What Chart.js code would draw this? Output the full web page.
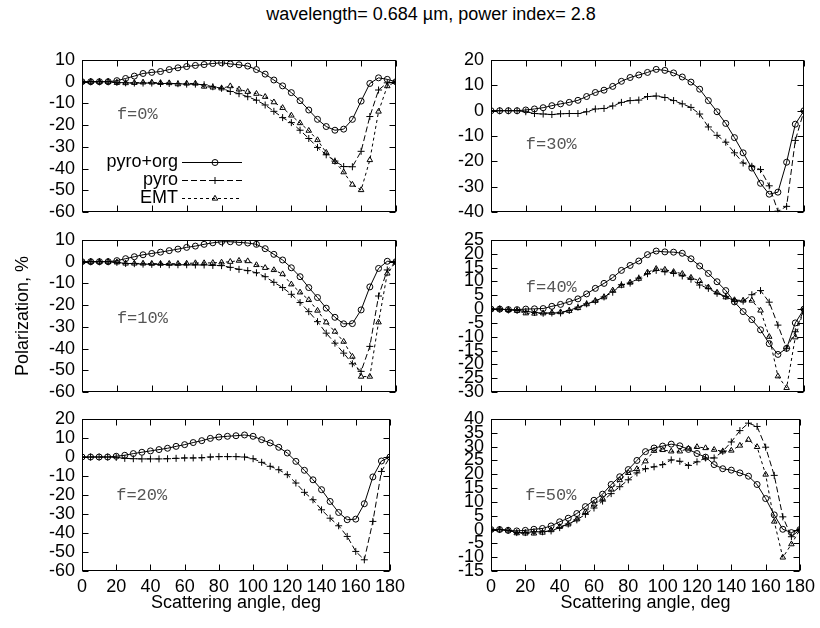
<!DOCTYPE html>
<html><head><meta charset="utf-8">
<script src="https://cdn.jsdelivr.net/npm/chart.js@4/dist/chart.umd.min.js"></script>
<style>
html,body{margin:0;padding:0;background:#fff;}
#wrap{position:relative;width:820px;height:628px;overflow:hidden;font-family:"Liberation Sans",Arial,sans-serif;}
#title{position:absolute;top:4px;left:0;width:862px;text-align:center;font-size:18px;color:#000;line-height:20px;}
canvas{position:absolute;}
</style></head><body>
<div id="wrap">
<div id="title">wavelength= 0.684 µm, power index= 2.8</div>
<canvas id="c1" width="410" height="190" style="left:0;top:40px"></canvas>
<canvas id="c2" width="410" height="190" style="left:410px;top:40px"></canvas>
<canvas id="c3" width="410" height="190" style="left:0;top:220px"></canvas>
<canvas id="c4" width="410" height="190" style="left:410px;top:220px"></canvas>
<canvas id="c5" width="410" height="228" style="left:0;top:400px"></canvas>
<canvas id="c6" width="410" height="228" style="left:410px;top:400px"></canvas>
</div>
<script>
const ANGLES = [0,5,10,15,20,25,30,35,40,45,50,55,60,65,70,75,80,85,90,95,100,105,110,115,120,125,130,135,140,145,150,155,160,165,170,175,180];
const X_TICKS = [0,20,40,60,80,100,120,140,160,180];
const SERIES_NAMES = ['pyro+org','pyro','EMT'];
const PANEL_LABELS = ['f=0%','f=30%','f=10%','f=40%','f=20%','f=50%'];

// f = 0%
const PO_F0 = [0,0,0,0,0.5,1.5,2.6,3.8,4.3,4.7,5.6,6.4,7.0,7.5,7.9,8.4,8.7,8.2,7.8,7.2,5.6,3.5,0.8,-1.9,-5.0,-8.7,-13.0,-17.3,-20.6,-22.3,-21.8,-17.3,-8.9,-0.8,1.8,1.1,0];
const P_F0  = [0,0,0,0,-0.3,-0.5,-0.6,-0.6,-0.6,-0.8,-0.8,-0.9,-1.1,-1.1,-1.4,-2.3,-3.0,-4.5,-5.5,-6.9,-8.5,-10.7,-13.6,-16.5,-18.8,-22.3,-26.1,-30.2,-33.6,-36.5,-39.0,-39.1,-32.0,-16.0,-3.8,-0.5,0];
const E_F0  = [0,0,0,0,-0.5,-0.6,-0.5,-0.3,-0.3,-0.5,-0.6,-1.1,-0.8,-0.8,-2.2,-2.6,-3.0,-2.0,-3.5,-4.6,-5.5,-6.9,-9.4,-12.0,-15.5,-19.0,-22.5,-26.8,-32.6,-36.8,-41.6,-47.3,-49.8,-36.0,-13.7,-2.0,0];
// f = 30%
const PO_F30 = [0,0,0,0,0.3,0.7,1.2,2.0,2.7,3.3,4.1,5.6,7.2,8.1,9.6,11.6,13.1,14.1,15.1,16.3,15.9,14.9,13.3,11.3,8.5,4.0,-0.4,-5.0,-10.6,-16.6,-22.6,-28.6,-32.9,-32.1,-20.3,-5.3,0];
const P_F30  = [0,0,0,0,-0.4,-1.1,-1.3,-1.5,-1.2,-1.1,-1.1,-0.4,0.7,0.9,1.9,3.3,4.0,4.2,5.6,5.8,5.2,4.0,2.7,1.3,-1.3,-6.4,-9.7,-12.4,-16.6,-20.6,-21.9,-23.2,-29.6,-39.6,-37.7,-11.7,0];
// f = 10%
const PO_F10 = [0,0,0,0,0.5,1.4,2.3,3.2,3.8,4.4,5.1,5.8,6.6,7.2,8.0,8.7,9.2,9.2,8.9,8.6,8.0,6.0,3.4,0.8,-2.8,-6.9,-11.9,-16.5,-21.4,-25.6,-28.6,-28.5,-22.2,-11.6,-3.1,0.2,0];
const P_F10  = [0,0,0,0,-0.3,-0.8,-0.9,-1.1,-1.2,-1.2,-1.4,-1.4,-1.4,-1.5,-1.5,-1.7,-1.8,-2.6,-3.5,-4.1,-5.1,-6.9,-9.5,-11.9,-15.0,-18.8,-23.0,-27.6,-32.9,-37.5,-42.1,-47.0,-50.5,-39.0,-15.8,-3.8,0];
const E_F10  = [0,0,0,0,-0.3,-0.8,-0.8,-0.8,-0.9,-0.9,-0.9,-0.9,-0.8,-0.6,-0.6,-0.5,-0.3,0.0,0.5,0.3,-1.5,-2.8,-3.8,-5.7,-10.4,-14.1,-17.6,-22.5,-27.9,-32.2,-36.8,-43.7,-52.9,-52.9,-27.9,-5.4,0];
// f = 40%
const PO_F40 = [0,0,-0.2,-0.2,0,0.1,0.2,1.0,1.7,2.7,3.7,5.5,7.5,9.3,11.4,14.0,15.8,17.4,19.7,21.0,20.7,20.6,20.2,18.2,15.6,12.9,9.9,6.7,2.6,-0.9,-3.8,-7.5,-12.5,-16.4,-14.2,-5.0,0];
const P_F40  = [0,0,-0.3,-0.5,-0.8,-1.2,-1.5,-1.4,-1.4,-0.5,0.7,1.9,2.9,4.4,6.1,8.8,9.4,11.2,12.8,14.0,13.5,13.0,12.0,10.8,8.7,7.5,5.7,4.6,2.9,2.9,5.2,6.7,2.5,-5.8,-14.2,-8.2,0];
const E_F40  = [0,0,-0.3,-0.6,-1.5,-1.6,-1.5,-1.3,-1.1,-0.6,0.4,1.8,3.0,4.3,6.8,8.5,9.6,11.0,13.3,14.6,14.3,13.5,12.8,11.4,10.2,7.9,6.0,4.3,3.3,3.1,3.1,-0.5,-10.0,-24.3,-28.5,-10.2,0];
// f = 20%
const PO_F20 = [0,0,0,0,0.4,0.9,1.8,2.5,3.2,3.9,4.6,5.6,6.5,7.6,8.6,9.8,10.5,10.9,11.2,11.6,10.9,9.1,7.4,5.1,2.1,-2.3,-7.0,-12.0,-17.2,-23.4,-29.2,-33.0,-32.7,-24.6,-10.5,-2.1,0];
const P_F20  = [0,0,0,0,-0.2,-0.7,-0.9,-1.0,-1.0,-1.0,-0.9,-0.7,-0.5,-0.5,-0.4,0,0.2,0.2,0.2,0,-0.9,-2.8,-4.9,-6.7,-9.3,-13.7,-18.6,-22.5,-27.8,-32.2,-36.2,-41.8,-49.7,-54.1,-33.9,-7.6,0];
// f = 50%
const PO_F50 = [0,0,-0.3,-0.5,-0.3,0.1,0.4,1.3,2.8,4.1,5.8,8.3,10.6,12.8,16.3,19.1,21.7,25.0,28.2,29.5,30.2,30.9,30.3,29.0,27.5,26.2,23.5,22.0,21.5,20.5,19.3,16.3,11.2,5.3,0.1,-1.1,0];
const P_F50  = [0,0,-0.3,-1.1,-1.1,-0.8,-0.8,-0.5,0.7,2.0,3.5,5.5,7.8,10.3,13.0,15.5,18.0,20.5,22.0,22.7,23.5,25.2,24.7,23.2,24.5,25.9,25.9,28.3,31.7,35.8,38.5,37.3,29.8,19.6,4.6,-2.6,0];
const E_F50  = [0,0,-0.3,-1.3,-1.4,-1.4,-1.1,-0.2,1.0,1.9,3.7,6.4,9.1,11.2,14.5,17.9,20.5,21.9,24.7,28.5,28.8,28.3,28.3,29.3,29.9,29.5,28.9,28.3,28.6,30.4,32.5,29.9,19.9,2.9,-10.1,-5.3,0];

const FONT = '"Liberation Sans", Arial, sans-serif';
const FS = 18;
const STYLES = [
  {pointStyle:'circle', dash:[], radius:3},
  {pointStyle:'cross', dash:[6,3], radius:3.5},
  {pointStyle:'triangle', dash:[3,3], radius:3.2}
];

function makeDataset(k, vals){
  const s = STYLES[k];
  return {
    label: SERIES_NAMES[k],
    data: ANGLES.map((a,i)=>({x:a, y:vals[i]})),
    borderColor:'#000', borderWidth:1, borderDash:s.dash,
    pointStyle:s.pointStyle, pointRadius:s.radius, pointBorderColor:'#000',
    pointBorderWidth:1, pointBackgroundColor:'rgba(255,255,255,0)',
    tension:0, fill:false
  };
}

const framePlugin = {
  id:'frame',
  afterDraw(chart){
    const {ctx, chartArea:a, scales:{x,y}} = chart;
    const L = 6;
    const l = Math.round(a.left)+0.5, r = Math.round(a.right)-0.5, t = Math.round(a.top)+0.5, b = Math.round(a.bottom)-0.5;
    ctx.save();
    ctx.strokeStyle='#000'; ctx.lineWidth=1; ctx.setLineDash([]);
    ctx.beginPath();
    x.ticks.forEach(tk=>{
      const px = Math.round(x.getPixelForValue(tk.value))+0.5;
      ctx.moveTo(px,b); ctx.lineTo(px,b-L);
      ctx.moveTo(px,t); ctx.lineTo(px,t+L);
    });
    y.ticks.forEach(tk=>{
      const py = Math.round(y.getPixelForValue(tk.value))+0.5;
      ctx.moveTo(l,py); ctx.lineTo(l+L,py);
      ctx.moveTo(r,py); ctx.lineTo(r-L,py);
    });
    ctx.stroke();
    ctx.strokeRect(l,t,r-l,b-t);
    ctx.restore();
  }
};

const fLabelPlugin = {
  id:'flabel',
  afterDatasetsDraw(chart, args, opts){
    if(!opts || !opts.text) return;
    const {ctx, scales:{x,y}} = chart;
    ctx.save();
    ctx.font = '17px "Liberation Mono", "DejaVu Sans Mono", monospace';
    ctx.fillStyle = '#555';
    ctx.textAlign='left'; ctx.textBaseline='middle';
    ctx.fillText(opts.text, x.getPixelForValue(opts.x), y.getPixelForValue(opts.y));
    ctx.restore();
  }
};

const keyPlugin = {
  id:'keybox',
  afterDatasetsDraw(chart, args, opts){
    if(!opts || !opts.show) return;
    const {ctx, chartArea:a} = chart;
    const rows = [102,120,138];
    ctx.save();
    chart.data.datasets.forEach((ds,i)=>{
      const yy = a.top + rows[i];
      ctx.font = FS+'px '+FONT;
      ctx.fillStyle='#000'; ctx.textAlign='right'; ctx.textBaseline='middle';
      ctx.fillText(ds.label, a.left+96, yy);
      ctx.strokeStyle='#000'; ctx.lineWidth=1; ctx.setLineDash(ds.borderDash);
      ctx.beginPath(); ctx.moveTo(a.left+100, yy+0.5); ctx.lineTo(a.left+160, yy+0.5); ctx.stroke();
      ctx.setLineDash([]);
      ctx.fillStyle='rgba(255,255,255,0)';
      Chart.helpers.drawPoint(ctx, {pointStyle:ds.pointStyle, radius:ds.pointRadius, borderWidth:1}, a.left+133, yy+0.5);
    });
    ctx.restore();
  }
};

function makePanel(id, cfg){
  const datasets = cfg.series.map((v,k)=> v ? makeDataset(k, v) : null).filter(Boolean);
  new Chart(document.getElementById(id), {
    type:'line',
    data:{datasets},
    options:{
      responsive:false, animation:false, events:[],
      layout:{padding:{left:0, right:cfg.padR, top:cfg.padT, bottom:cfg.padB}},
      plugins:{
        legend:{display:false}, tooltip:{enabled:false},
        flabel:{text:cfg.label, x:cfg.lx, y:cfg.ly},
        keybox:{show:!!cfg.key}
      },
      scales:{
        x:{type:'linear', min:0, max:180,
           grid:{display:false, drawTicks:false}, border:{display:false},
           afterBuildTicks(s){ s.ticks = X_TICKS.map(v=>({value:v})); },
           ticks:{display:cfg.showX, autoSkip:false, maxRotation:0, color:'#000', font:{family:FONT,size:FS}, padding:5},
           title:{display:cfg.showX, text:'Scattering angle, deg', color:'#000', font:{family:FONT,size:FS}, padding:{top:0,bottom:7}},
           afterFit(s){ s.height = cfg.xH; }},
        y:{type:'linear', min:cfg.ymin, max:cfg.ymax,
           grid:{display:false, drawTicks:false}, border:{display:false},
           ticks:{stepSize:cfg.step, autoSkip:false, color:'#000', font:{family:FONT,size:FS}, padding:7},
           title:{display:!!cfg.ytitle, text:'Polarization, %', color:'#000', font:{family:FONT,size:FS}, padding:{top:12,bottom:0}},
           afterFit(s){ s.width = cfg.yW; }}
      }
    },
    plugins:[framePlugin, fLabelPlugin, keyPlugin]
  });
}

const L = {yW:82, padR:14};
const R = {yW:81, padR:16};
makePanel('c1', {...L, padT:20, padB:17, xH:0, showX:false, ymin:-60, ymax:10, step:10, series:[PO_F0,P_F0,E_F0], label:PANEL_LABELS[0], lx:20, ly:-15, key:true});
makePanel('c2', {...R, padT:20, padB:17, xH:0, showX:false, ymin:-40, ymax:20, step:10, series:[PO_F30,P_F30,null], label:PANEL_LABELS[1], lx:20, ly:-13.5});
makePanel('c3', {...L, padT:20, padB:18, xH:0, showX:false, ymin:-60, ymax:10, step:10, series:[PO_F10,P_F10,E_F10], label:PANEL_LABELS[2], lx:20, ly:-26, ytitle:true});
makePanel('c4', {...R, padT:20, padB:18, xH:0, showX:false, ymin:-30, ymax:25, step:5, series:[PO_F40,P_F40,E_F40], label:PANEL_LABELS[3], lx:20, ly:7.7});
makePanel('c5', {...L, padT:19, padB:7, xH:50, showX:true, ymin:-60, ymax:20, step:10, series:[PO_F20,P_F20,null], label:PANEL_LABELS[4], lx:20, ly:-20.4});
makePanel('c6', {...R, padT:19, padB:7, xH:50, showX:true, ymin:-15, ymax:40, step:5, series:[PO_F50,P_F50,E_F50], label:PANEL_LABELS[5], lx:20, ly:12.3});
</script>
</body></html>
